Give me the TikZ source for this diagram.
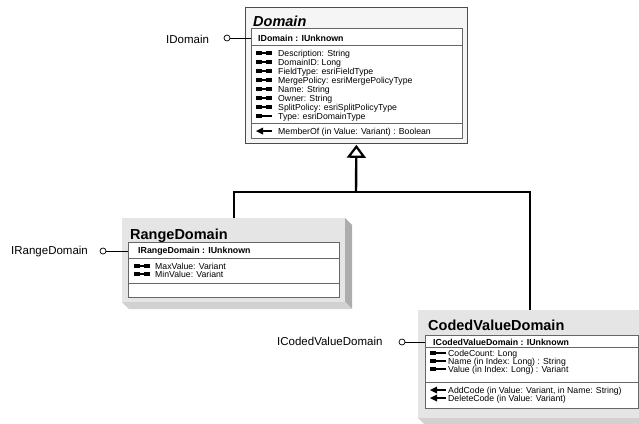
\documentclass[tikz,border=0pt]{standalone}
\usepackage{fontspec}
\setmainfont{Liberation Sans}
\usetikzlibrary{arrows.meta}
\begin{document}
\begin{tikzpicture}[x=1pt,y=-1pt,
 absbox/.style={draw=black!70, line width=0.8pt, fill=black!4, anchor=north west, inner sep=0pt},
 bevelbox/.style={draw=none, fill=black!10, anchor=north west, inner sep=0pt},
 rowbox/.style={draw=black!60, line width=0.8pt, fill=white, anchor=north west, inner sep=0pt},
 mem/.style={anchor=base west, inner sep=0pt, font=\fontsize{8.7}{9}\selectfont},
 hdr/.style={anchor=base west, inner sep=0pt, font=\fontsize{8.8}{9}\selectfont\bfseries},
 ttl/.style={anchor=base west, inner sep=0pt, font=\fontsize{14.5}{15}\selectfont\bfseries},
 lbl/.style={anchor=base west, inner sep=0pt, font=\fontsize{11.5}{12}\selectfont},
 lolli/.style={circle, draw=black, line width=0.7pt, fill=white, minimum size=6pt, inner sep=0pt},
 inh/.style={line width=2.4pt},
 pgprop/.pic={\fill (0,-2) rectangle (6,2); \fill (10,-2) rectangle (16,2); \draw[line width=1.3pt] (5,0) -- (11,0);},
 roprop/.pic={\fill (0,-2) rectangle (6,2); \draw[line width=1.3pt] (5,0) -- (16,0);},
 methodicon/.pic={\fill (0,0) -- (7,-3.5) -- (7,3.5) -- cycle; \draw[line width=1.4pt] (6,0) -- (16,0);}
]
\useasboundingbox (0,0) rectangle (639,423);

% ---------------- Domain ----------------
\node[absbox, minimum width=222pt, minimum height=136pt] (dom) at (245,7) {};
\node[ttl, font=\fontsize{14.5}{15}\selectfont\bfseries\itshape] (domt) at (253,27) {Domain};
\node[rowbox, minimum width=211pt, minimum height=17pt] (dh) at (251,28) {};
\node[rowbox, minimum width=211pt, minimum height=78pt] (da) at (251,45) {};
\node[rowbox, minimum width=211pt, minimum height=15pt] (dm) at (251,123) {};
\node[hdr] (dht) at (258,41) {IDomain : IUnknown};
\pic at (256,53) {pgprop};
\node[mem] (d1) at (278,56) {Description: String};
\pic at (256,62) {pgprop};
\node[mem] (d2) at (278,65) {DomainID: Long};
\pic at (256,71) {pgprop};
\node[mem] (d3) at (278,74) {FieldType: esriFieldType};
\pic at (256,80) {pgprop};
\node[mem] (d4) at (278,83) {MergePolicy: esriMergePolicyType};
\pic at (256,89) {pgprop};
\node[mem] (d5) at (278,92) {Name: String};
\pic at (256,98) {pgprop};
\node[mem] (d6) at (278,101) {Owner: String};
\pic at (256,107) {pgprop};
\node[mem] (d7) at (278,110) {SplitPolicy: esriSplitPolicyType};
\pic at (256,116) {roprop};
\node[mem] (d8) at (278,119) {Type: esriDomainType};
\pic at (256,131) {methodicon};
\node[mem] (d9) at (278,134) {MemberOf (in Value: Variant) : Boolean};

\node[lbl] (ldomt) at (166,43) {IDomain};
\node[lolli] (ldom) at (227,38) {};
\draw[line width=0.7pt] (ldom) -- (ldom -| dh.west);

% ---------------- RangeDomain ----------------
\fill[black!32] (345,218) -- (352,225) -- (352,309) -- (345,302) -- cycle;
\fill[black!18] (122,302) -- (345,302) -- (352,309) -- (129,309) -- cycle;
\node[bevelbox, minimum width=223pt, minimum height=84pt] (rng) at (122,218) {};
\node[ttl] (rngt) at (130,239) {RangeDomain};
\node[rowbox, minimum width=211pt, minimum height=16pt] (rh) at (128,242) {};
\node[rowbox, minimum width=211pt, minimum height=25pt] (ra) at (128,258) {};
\node[rowbox, minimum width=211pt, minimum height=14pt] (rm) at (128,283) {};
\node[hdr] (rht) at (138,253) {IRangeDomain : IUnknown};
\pic at (134,266) {pgprop};
\node[mem] (r1) at (155,269) {MaxValue: Variant};
\pic at (134,274) {pgprop};
\node[mem] (r2) at (155,277) {MinValue: Variant};

\node[lbl] (lrngt) at (11,254) {IRangeDomain};
\node[lolli] (lrng) at (103,251) {};
\draw[line width=0.7pt] (lrng) -- (lrng -| rh.west);

% ---------------- CodedValueDomain ----------------
\fill[black!32] (642,310) -- (649,317) -- (649,425) -- (642,418) -- cycle;
\fill[black!18] (418,418) -- (642,418) -- (649,425) -- (425,425) -- cycle;
\node[bevelbox, minimum width=224pt, minimum height=108pt] (cvd) at (418,310) {};
\node[ttl] (cvdt) at (428,330) {CodedValueDomain};
\node[rowbox, minimum width=213pt, minimum height=12pt] (ch) at (425,335) {};
\node[rowbox, minimum width=213pt, minimum height=35pt] (ca) at (425,347) {};
\node[rowbox, minimum width=213pt, minimum height=26pt] (cm) at (425,382) {};
\node[hdr] (cht) at (433,345) {ICodedValueDomain : IUnknown};
\pic at (430,353) {roprop};
\node[mem] (c1) at (448,356) {CodeCount: Long};
\pic at (430,361) {roprop};
\node[mem] (c2) at (448,364) {Name (in Index: Long) : String};
\pic at (430,369) {roprop};
\node[mem] (c3) at (448,372) {Value (in Index: Long) : Variant};
\pic at (430,390) {methodicon};
\node[mem] (c4) at (448,393) {AddCode (in Value: Variant, in Name: String)};
\pic at (430,398) {methodicon};
\node[mem] (c5) at (448,401) {DeleteCode (in Value: Variant)};

\node[lbl] (lcvdt) at (277,345) {ICodedValueDomain};
\node[lolli] (lcvd) at (402,342) {};
\draw[line width=0.7pt] (lcvd) -- (lcvd -| ch.west);

% ---------------- Inheritance ----------------
\coordinate (j) at (356,192);
\draw[inh] (rng.north) |- (j) -| (cvd.north);
\draw[inh, -{Triangle[open, length=13pt, width=19pt, line width=2.2pt]}, shorten >=1pt] (j) -- (dom.south);
\end{tikzpicture}
\end{document}
